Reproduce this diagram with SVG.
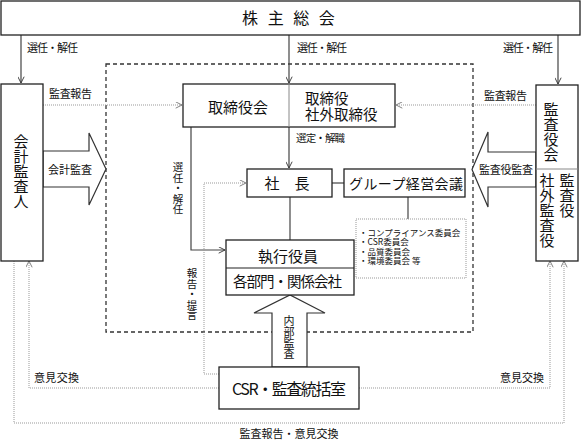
<svg xmlns="http://www.w3.org/2000/svg" width="582" height="447" viewBox="0 0 582 447">
<defs>
<marker id="ah" viewBox="0 0 10 10" refX="10" refY="5" markerWidth="7" markerHeight="7" orient="auto" markerUnits="userSpaceOnUse">
<path d="M1,0.5 L10,5 L1,9.5" fill="none" stroke="#333" stroke-width="1.3"/>
</marker>
<marker id="ahg" viewBox="0 0 10 10" refX="10" refY="5" markerWidth="7" markerHeight="7" orient="auto" markerUnits="userSpaceOnUse">
<path d="M1,0.5 L10,5 L1,9.5" fill="none" stroke="#777" stroke-width="1.3"/>
</marker>
</defs>
<style>
text{font-family:"Noto Sans CJK JP","Noto Sans CJK SC",sans-serif;fill:#111}
.box{fill:#fff;stroke:#222;stroke-width:1.3}
.div{stroke:#888;stroke-width:1}
.solid{fill:none;stroke:#444;stroke-width:1.2}
.dot{fill:none;stroke:#999;stroke-width:1;stroke-dasharray:1,1}
.big{fill:#fff;stroke:#333;stroke-width:1.2}
.m{text-anchor:middle}
.s11{font-size:11px}
.v{writing-mode:vertical-rl;text-orientation:upright}
</style>
<rect width="582" height="447" fill="#fff"/>
<rect x="106" y="64" width="367" height="268" fill="none" stroke="#333" stroke-width="1.3" stroke-dasharray="4,3"/>
<g id="connectors">
<path class="solid" d="M21,35 V83" marker-end="url(#ah)"/>
<path class="solid" d="M289,35 V83" marker-end="url(#ah)"/>
<path class="solid" d="M558,35 V84" marker-end="url(#ah)"/>
<path class="dot" d="M43,105 H182" marker-end="url(#ahg)"/>
<path class="dot" d="M536,105 H396" marker-end="url(#ahg)"/>
<path class="solid" d="M289,127 V168" marker-end="url(#ah)"/>
<path class="solid" d="M191,127 V250 H225" marker-end="url(#ah)"/>
<path class="solid" d="M290,197 V240"/>
<path class="solid" d="M332,183 H344"/>
<path class="solid" d="M408,197 V219"/>
<path class="dot" d="M219,374 H204 V183 H246" marker-end="url(#ahg)"/>
<path class="dot" d="M219,388 H29 V261" marker-end="url(#ahg)"/>
<path class="dot" d="M359,388 H550 V261" marker-end="url(#ahg)"/>
<path class="dot" d="M14,261 V423 H564 V261" marker-start="url(#ahg)" marker-end="url(#ahg)"/>
<path class="big" d="M43,151 H89 V133 L106,169 L89,205 V187 H43 Z"/>
<path class="big" d="M536,152 H488 V132 L472,169.5 L488,207 V187 H536 Z"/>
<path class="big" d="M272,367 V313 H254 L290,295 L325,313 H307 V367 Z"/>
</g>
<g id="labels">
<text class="s11" x="27" y="52" textLength="51">選任・解任</text>
<text class="s11" x="297" y="52" textLength="50">選任・解任</text>
<text class="s11" x="503" y="52" textLength="50">選任・解任</text>
<text class="s11" x="49" y="98" textLength="43">監査報告</text>
<text class="s11" x="484" y="100" textLength="43">監査報告</text>
<text class="s11" x="48" y="174" textLength="44">会計監査</text>
<text class="s11" x="479" y="173.5" textLength="54">監査役監査</text>
<text x="296" y="142" font-size="10.5" textLength="49">選定・解職</text>
<text class="v" x="178" y="162" font-size="10.5">選任・解任</text>
<text class="v" x="192" y="268" font-size="10.5">報告・提言</text>
<text class="v" x="289" y="315" font-size="11">内部監査</text>
<text class="s11" x="34" y="382" textLength="45">意見交換</text>
<text class="s11" x="500" y="382" textLength="44">意見交換</text>
<text class="s11 m" x="289" y="438">監査報告・意見交換</text>
</g>
<g id="node-kabunushi">
<rect class="box" x="1" y="1" width="579" height="34"/>
<text class="m" x="290" y="24" font-size="16" letter-spacing="3">株 主 総 会</text>
</g>
<g id="node-kaikei">
<rect class="box" x="1" y="84" width="42" height="177"/>
<text class="v" x="21" y="134" font-size="15">会計監査人</text>
</g>
<g id="node-kansayaku">
<rect class="box" x="536" y="85" width="42" height="176"/>
<line class="div" x1="536" y1="169" x2="578" y2="169"/>
<text class="v" x="551" y="102" font-size="15">監査役会</text>
<text class="v" x="547" y="173" font-size="15">社外監査役</text>
<text class="v" x="567" y="173" font-size="15">監査役</text>
</g>
<g id="node-torishimariyakukai">
<rect class="box" x="183" y="84" width="212" height="43"/>
<line class="div" x1="289" y1="84" x2="289" y2="127"/>
<text class="m" x="238" y="113" font-size="15">取締役会</text>
<text font-size="14.5"><tspan x="305" y="104">取締役</tspan><tspan x="305" y="120">社外取締役</tspan></text>
</g>
<g id="node-shacho">
<rect class="box" x="247" y="169" width="85" height="28"/>
<text class="m" x="287" y="189" font-size="15">社　長</text>
</g>
<g id="node-group">
<rect class="box" x="344" y="169" width="121" height="28"/>
<text x="349" y="189" font-size="14" textLength="114">グループ経営会議</text>
</g>
<g id="node-iinkai">
<rect x="356" y="219" width="110" height="59" fill="#fff" stroke="#999" stroke-width="1" stroke-dasharray="1,1"/>
<text font-size="8.5"><tspan x="359" y="235.5">・コンプライアンス委員会</tspan><tspan x="359" y="245">・CSR委員会</tspan><tspan x="359" y="254.5">・品質委員会</tspan><tspan x="359" y="264">・環境委員会 等</tspan></text>
</g>
<g id="node-shikko">
<rect class="box" x="226" y="240" width="128" height="55"/>
<line x1="226" y1="268" x2="354" y2="268" stroke="#222" stroke-width="1.2"/>
<text class="m" x="288" y="262" font-size="15">執行役員</text>
<text x="233" y="287" font-size="14.5" textLength="109">各部門・関係会社</text>
</g>
<g id="node-csr">
<rect class="box" x="219" y="367" width="140" height="42"/>
<text x="232" y="395" font-size="16" textLength="114">CSR・監査統括室</text>
</g>
</svg>
